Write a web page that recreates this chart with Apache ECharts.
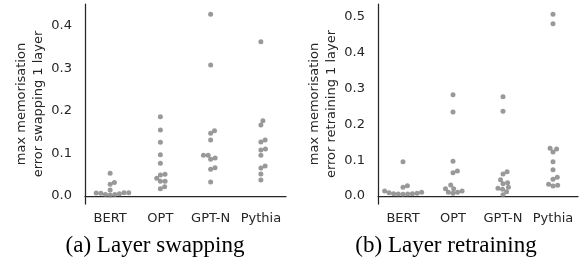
<!DOCTYPE html>
<html>
<head>
<meta charset="utf-8">
<script src="https://cdn.jsdelivr.net/npm/echarts@6/dist/echarts.min.js"></script>
<style>
  html, body { margin: 0; padding: 0; background: #fff; }
  #chart { width: 584px; height: 266px; }
</style>
</head>
<body>
<div id="chart"></div>
<script>
  // categories on both panels
  const categories = ["BERT", "OPT", "GPT-N", "Pythia"];

  // (a) layer swapping
  const swapBERT = [0.0534, 0.032, 0.0275, 0.0141, 0.0078, 0.0063, 0.0035, 0.0024, 0.0035, 0.0055, 0.007, 0.0078];
  const swapOPT = [0.1867, 0.1553, 0.1263, 0.0973, 0.0769, 0.0494, 0.051, 0.0416, 0.0345, 0.0345, 0.022, 0.0173];
  const swapGPTN = [0.4275, 0.308, 0.1537, 0.1475, 0.1318, 0.0957, 0.0957, 0.0894, 0.0863, 0.0667, 0.0627, 0.0329];
  const swapPythia = [0.363, 0.177, 0.167, 0.1318, 0.127, 0.1106, 0.1082, 0.0957, 0.0706, 0.0659, 0.0518, 0.0376];

  // (b) layer retraining
  const retrainBERT = [0.0958, 0.0288, 0.0242, 0.014, 0.0092, 0.0064, 0.0056, 0.0047, 0.0056, 0.0064, 0.0075, 0.0103];
  const retrainOPT = [0.283, 0.2346, 0.0968, 0.0698, 0.0651, 0.0307, 0.0205, 0.0205, 0.014, 0.0102, 0.0075, 0.0102];
  const retrainGPTN = [0.2774, 0.2365, 0.068, 0.0615, 0.0456, 0.0372, 0.0344, 0.0242, 0.0214, 0.0186, 0.0121, 0.0037];
  const retrainPythia = [0.5075, 0.4813, 0.1313, 0.1332, 0.1229, 0.0959, 0.0735, 0.0521, 0.0466, 0.0298, 0.0279, 0.0326];

  const swapData = [swapBERT, swapOPT, swapGPTN, swapPythia];
  const retrainData = [retrainBERT, retrainOPT, retrainGPTN, retrainPythia];

  const textColor = "#262626";
  const dotColor = "#7f7f7f";
  const dotSize = 5;

  const chart = echarts.init(document.getElementById("chart"));

  function xAxisOpt(i) {
    return {
      gridIndex: i,
      type: "category",
      data: categories,
      boundaryGap: true,
      axisLine: { lineStyle: { color: textColor, width: 1.25 } },
      axisTick: { show: false },
      splitLine: { show: false },
      axisLabel: { color: textColor, fontSize: 13, fontFamily: "DejaVu Sans", margin: 8, interval: 0 }
    };
  }

  function yAxisOpt(i, min, max, name) {
    return {
      gridIndex: i,
      type: "value",
      min: min,
      max: max,
      axisLine: { show: true, lineStyle: { color: textColor, width: 1.25 } },
      axisTick: { show: false },
      splitLine: { show: false },
      axisLabel: {
        color: textColor,
        fontSize: 13,
        fontFamily: "DejaVu Sans",
        margin: 13,
        formatter: function (v) {
          return Math.abs(v * 10 - Math.round(v * 10)) < 1e-6 ? v.toFixed(1) : "";
        }
      },
      name: name,
      nameLocation: "middle",
      nameGap: 38,
      nameTextStyle: { color: textColor, fontSize: 13, fontFamily: "DejaVu Sans", lineHeight: 17 }
    };
  }

  function points(groups) {
    const out = [];
    groups.forEach((vals, ci) => vals.forEach(v => out.push({ value: [ci, v] })));
    return out;
  }

  // beeswarm: place each point nearest to the centre without overlapping (pixel units)
  function swarm(ys, d) {
    const order = ys.map((y, i) => i).sort((a, b) => ys[b] - ys[a]);
    const placed = [];
    const offs = new Array(ys.length).fill(0);
    order.forEach(i => {
      const y = ys[i];
      const near = placed.filter(p => Math.abs(p.y - y) < d);
      const cands = [0];
      near.forEach(p => {
        const dx = Math.sqrt(d * d - (p.y - y) * (p.y - y));
        cands.push(p.x + dx, p.x - dx);
      });
      cands.sort((a, b) => Math.abs(a) - Math.abs(b));
      const x = cands.find(c => near.every(p => (p.x - c) * (p.x - c) + (p.y - y) * (p.y - y) >= d * d - 1e-6));
      offs[i] = x;
      placed.push({ x: x, y: y });
    });
    return offs;
  }

  chart.setOption({
    animation: false,
    title: [
      { text: "(a) Layer swapping", left: 150, top: 229, textAlign: "center",
        textStyle: { fontFamily: "Liberation Serif", fontSize: 23, fontWeight: "normal", color: "#000" } },
      { text: "(b) Layer retraining", left: 441, top: 229, textAlign: "center",
        textStyle: { fontFamily: "Liberation Serif", fontSize: 23, fontWeight: "normal", color: "#000" } }
    ],
    grid: [
      { left: 85, right: 298, top: 4, bottom: 62 },
      { left: 378, right: 6, top: 4, bottom: 62 }
    ],
    xAxis: [xAxisOpt(0), xAxisOpt(1)],
    yAxis: [
      yAxisOpt(0, -0.0188, 0.4518, "max memorisation\nerror swapping 1 layer"),
      yAxisOpt(1, -0.0223, 0.5363, "max memorisation\nerror retraining 1 layer")
    ],
    series: [
      { type: "scatter", xAxisIndex: 0, yAxisIndex: 0, symbolSize: dotSize,
        itemStyle: { color: dotColor }, data: points(swapData) },
      { type: "scatter", xAxisIndex: 1, yAxisIndex: 1, symbolSize: dotSize,
        itemStyle: { color: dotColor }, data: points(retrainData) }
    ]
  });

  // second pass: spread points horizontally as a swarm
  const spread = [swapData, retrainData].map((groups, si) => {
    const out = [];
    groups.forEach((vals, ci) => {
      const ys = vals.map(v => chart.convertToPixel({ seriesIndex: si }, [ci, v])[1]);
      const offs = swarm(ys, 4.7);
      vals.forEach((v, k) => out.push({ value: [ci, v], symbolOffset: [offs[k], 0] }));
    });
    return out;
  });

  chart.setOption({
    series: [{ data: spread[0] }, { data: spread[1] }]
  });
</script>
</body>
</html>
